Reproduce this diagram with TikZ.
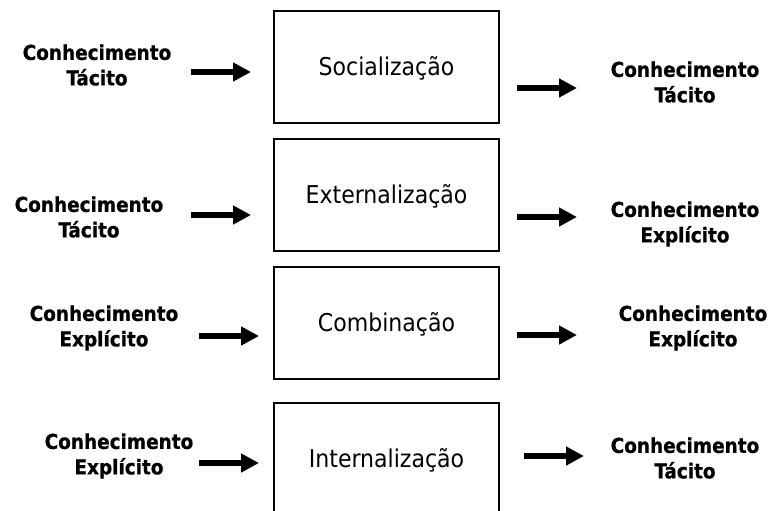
\documentclass[tikz,border=0pt]{standalone}
\usepackage{fontspec}
\setmainfont{DejaVu Sans Condensed}
\newfontfamily\forte[FakeBold=0.7]{DejaVu Sans Condensed Bold}
\usepackage{tikz}
\usetikzlibrary{arrows.meta}
\tikzstyle{modo} = [draw, line width=1.3pt, minimum width=225pt, minimum height=112pt, inner sep=0pt, text height=19pt, text depth=3pt, font=\fontsize{24.5}{29}\selectfont]
\tikzstyle{saber} = [align=center, inner sep=0pt, font=\fontsize{20.5}{25.5}\selectfont\forte]
\tikzstyle{seta} = [line width=5.5pt, -{Triangle[length=18pt,width=18pt]}]

\begin{document}
\begin{tikzpicture}[x=1pt,y=-1pt]
		\useasboundingbox (0,0) rectangle (774,511);
		% caixas
		\node[modo](soc) at (386.5,67) {Socialização};
		\node[modo](ext) at (386.5,195) {Externalização};
		\node[modo](com) at (386.5,323) {Combinação};
		\node[modo](int) at (386.5,459) {Internalização};
		% entradas
		\node[saber](in1) at (97,65) {Conhecimento\\Tácito};
		\node[saber](in2) at (89,217) {Conhecimento\\Tácito};
		\node[saber](in3) at (104,328) {Conhecimento\\Explícito};
		\node[saber](in4) at (119,456) {Conhecimento\\Explícito};
		% saidas
		\node[saber](out1) at (685,82) {Conhecimento\\Tácito};
		\node[saber](out2) at (685,224) {Conhecimento\\Explícito};
		\node[saber](out3) at (693,328) {Conhecimento\\Explícito};
		\node[saber](out4) at (685,458) {Conhecimento\\Tácito};
		% setas
		\coordinate (a1) at (191,72);  \coordinate (b1) at (251,72);
		\coordinate (a2) at (191,215); \coordinate (b2) at (251,215);
		\coordinate (a3) at (199,336); \coordinate (b3) at (259,336);
		\coordinate (a4) at (199,463); \coordinate (b4) at (259,463);
		\coordinate (c1) at (517,88);  \coordinate (d1) at (577,88);
		\coordinate (c2) at (517,217); \coordinate (d2) at (577,217);
		\coordinate (c3) at (517,335); \coordinate (d3) at (577,335);
		\coordinate (c4) at (524,456); \coordinate (d4) at (584,456);
		\draw[seta] (a1) -- (b1);
		\draw[seta] (a2) -- (b2);
		\draw[seta] (a3) -- (b3);
		\draw[seta] (a4) -- (b4);
		\draw[seta] (c1) -- (d1);
		\draw[seta] (c2) -- (d2);
		\draw[seta] (c3) -- (d3);
		\draw[seta] (c4) -- (d4);
	\end{tikzpicture}
\end{document}
